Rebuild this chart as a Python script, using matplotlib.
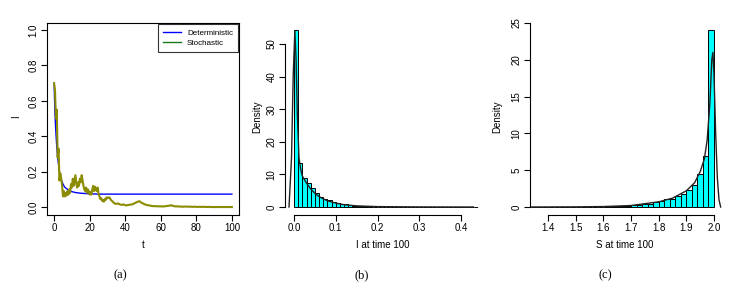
import numpy as np
import matplotlib
matplotlib.use("Agg")
import matplotlib.pyplot as plt

W, H = 735, 289

# ---- panel (a): I over time ----
det_t = [0, 0.5, 1, 1.5, 2, 3, 4, 5, 6, 8, 10, 12, 15, 20, 25, 100]
det_i = [0.70, 0.52, 0.42, 0.34, 0.28, 0.20, 0.155, 0.13, 0.112, 0.096, 0.087, 0.082,
         0.078, 0.075, 0.073, 0.073]

sto_t = list(np.arange(0, 30.5, 0.5)) + list(range(31, 101))
sto_i = [0.70, 0.66, 0.50, 0.55, 0.28, 0.33, 0.15, 0.19, 0.16, 0.12,
         0.06, 0.09, 0.06, 0.08, 0.065, 0.09, 0.07, 0.10, 0.08, 0.13,
         0.11, 0.16, 0.12, 0.15, 0.18, 0.13, 0.11, 0.14, 0.12, 0.16,
         0.14, 0.18, 0.15, 0.12, 0.10, 0.09, 0.11, 0.08, 0.10, 0.09,
         0.07, 0.085, 0.07, 0.10, 0.12, 0.09, 0.115, 0.10, 0.09, 0.11,
         0.075, 0.06, 0.045, 0.05, 0.035, 0.04, 0.03, 0.045, 0.04, 0.055,
         0.05,
         0.055, 0.04, 0.03, 0.02, 0.018, 0.02, 0.015, 0.012, 0.015, 0.01,
         0.01, 0.012, 0.014, 0.015, 0.02, 0.025, 0.03, 0.033, 0.025, 0.02,
         0.015, 0.012, 0.01, 0.008, 0.006, 0.005, 0.005, 0.004, 0.004, 0.004,
         0.003, 0.004, 0.005, 0.007, 0.008, 0.01, 0.006, 0.004, 0.004, 0.003,
         0.003, 0.002, 0.002, 0.003, 0.002, 0.002, 0.002, 0.001, 0.002, 0.001,
         0.001, 0.001, 0.001, 0.001, 0.001, 0.0, 0.001, 0.0, 0.0, 0.0,
         0.0, 0.0, 0.0, 0.0, 0.0, 0.0, 0.0, 0.0, 0.0, 0.0]

# ---- panel (b): histogram of I at time 100 (bin width 0.01) ----
i_edges = np.round(np.arange(0, 0.45, 0.01), 3)
i_dens = [54.3, 13.4, 9.0, 7.3, 5.7, 4.2, 3.2, 2.5, 2.1, 1.6,
          1.3, 1.0, 0.8, 0.6, 0.45, 0.35, 0.25, 0.2, 0.15, 0.1,
          0.08, 0.06, 0.05, 0.04, 0.03, 0.02, 0.02, 0.01, 0.01, 0.01,
          0.01, 0.0, 0.0, 0.0, 0.0, 0.0, 0.0, 0.0, 0.0, 0.0,
          0.0, 0.0, 0.0, 0.0]
i_kde_x = [-0.012, -0.006, -0.002, 0.002, 0.005, 0.008, 0.012, 0.016, 0.02, 0.03, 0.04,
           0.05, 0.06, 0.07, 0.08, 0.1, 0.12, 0.15, 0.2, 0.3, 0.43]
i_kde_y = [0.0, 15, 40, 54, 45, 28, 15, 11.5, 9.5, 7.3, 5.5,
           4.2, 3.2, 2.5, 1.9, 1.2, 0.7, 0.35, 0.12, 0.03, 0.0]

# ---- panel (c): histogram of S at time 100 (bin width 0.02, 1.34 .. 2.00) ----
s_edges = np.round(np.arange(1.34, 2.01, 0.02), 3)
s_dens = [0.01, 0.01, 0.01, 0.01, 0.01, 0.01, 0.01, 0.02, 0.02, 0.02,
          0.03, 0.04, 0.05, 0.06, 0.08, 0.10, 0.15, 0.2, 0.27, 0.3,
          0.45, 0.45, 0.63, 0.77, 1.05, 1.1, 1.45, 1.8, 2.3, 3.0,
          4.48, 6.93, 24.05]
s_kde_x = [1.335, 1.5, 1.6, 1.7, 1.8, 1.85, 1.9, 1.93, 1.95, 1.965, 1.975,
           1.985, 1.992, 1.996, 2.0, 2.006, 2.012, 2.018, 2.024]
s_kde_y = [0.0, 0.02, 0.06, 0.2, 0.7, 1.2, 2.2, 3.3, 4.8, 6.5, 9.0,
           14.0, 20.0, 21.0, 18.0, 10.0, 4.0, 1.0, 0.0]

plt.rcParams['font.family'] = ['Liberation Sans', 'DejaVu Sans']
fig = plt.figure(figsize=(W / 100, H / 100), dpi=100)


def box(x0, y0, x1, y1):
    return [x0 / W, 1 - y1 / H, (x1 - x0) / W, (y1 - y0) / H]


def style(ax):
    ax.tick_params(labelsize=7, length=4, width=0.8, pad=2, colors='black')
    for lab in ax.get_yticklabels():
        lab.set_rotation(90)
        lab.set_va('center')


# (a)
ax1 = fig.add_axes(box(47, 23, 239, 215))
ax1.plot(det_t, det_i, color='#0000ff', lw=1.0, label='Deterministic')
ax1.plot(sto_t, sto_i, color='#8b8b00', lw=1.5, label='_nolegend_')
ax1.plot([], [], color='#1a7a1a', lw=1.0, label='Stochastic')
ax1.set_xlim(-4, 104)
ax1.set_ylim(-0.045, 1.04)
ax1.set_xticks([0, 20, 40, 60, 80, 100])
ax1.set_yticks([0, 0.2, 0.4, 0.6, 0.8, 1.0])
ax1.set_yticklabels(['0.0', '0.2', '0.4', '0.6', '0.8', '1.0'])
for s in ax1.spines.values():
    s.set_linewidth(0.8)
style(ax1)
leg = ax1.legend(loc='upper right', fontsize=5.8, frameon=True, fancybox=False,
                 borderpad=0.6, handlelength=2.2, labelspacing=0.3,
                 borderaxespad=0.15)
leg.get_frame().set_edgecolor('black')
leg.get_frame().set_linewidth(0.8)

# (b)
ax2 = fig.add_axes(box(285, 23, 478, 215))
ax2.bar(i_edges[:-1], i_dens, width=0.01, align='edge', color='#00ffff',
        edgecolor='black', linewidth=0.7)
ax2.plot(i_kde_x, i_kde_y, color='#222222', lw=1.0)
ax2.set_xlim(-0.0216, 0.4407)
ax2.set_ylim(-2.45, 56.4)
ax2.set_xticks([0, 0.1, 0.2, 0.3, 0.4])
ax2.set_xticklabels(['0.0', '0.1', '0.2', '0.3', '0.4'])
ax2.set_yticks([0, 10, 20, 30, 40, 50])

# (c)
ax3 = fig.add_axes(box(530, 23, 722, 215))
ax3.bar(s_edges[:-1], s_dens, width=0.02, align='edge', color='#00ffff',
        edgecolor='black', linewidth=0.7)
ax3.plot(s_kde_x, s_kde_y, color='#222222', lw=1.0)
ax3.set_xlim(1.335, 2.0289)
ax3.set_ylim(-1.087, 25.0)
ax3.set_xticks([1.4, 1.5, 1.6, 1.7, 1.8, 1.9, 2.0])
ax3.set_yticks([0, 5, 10, 15, 20, 25])

for ax, xb, yb in [(ax2, (0, 0.4), (0, 50)), (ax3, (1.4, 2.0), (0, 25))]:
    ax.spines['top'].set_visible(False)
    ax.spines['right'].set_visible(False)
    ax.spines['left'].set_bounds(*yb)
    ax.spines['bottom'].set_bounds(*xb)
    ax.spines['left'].set_linewidth(0.8)
    ax.spines['bottom'].set_linewidth(0.8)
    ax.patch.set_alpha(0)
    style(ax)


def px_text(x, y, s, **kw):
    fig.text(x / W, 1 - y / H, s, ha='center', va='center', **kw)


px_text(143, 245, 't', fontsize=7)
px_text(16, 117, 'I', fontsize=7, rotation=90)
px_text(383, 245, 'I at time 100', fontsize=7)
px_text(257, 117, 'Density', fontsize=7, rotation=90)
px_text(625, 245, 'S at time 100', fontsize=7)
px_text(497, 117, 'Density', fontsize=7, rotation=90)
for x, s in [(120, '(a)'), (362, '(b)'), (605, '(c)')]:
    px_text(x, 275, s, fontsize=9, family=['Liberation Serif', 'DejaVu Serif'])

fig.savefig('out.png', dpi=100)
